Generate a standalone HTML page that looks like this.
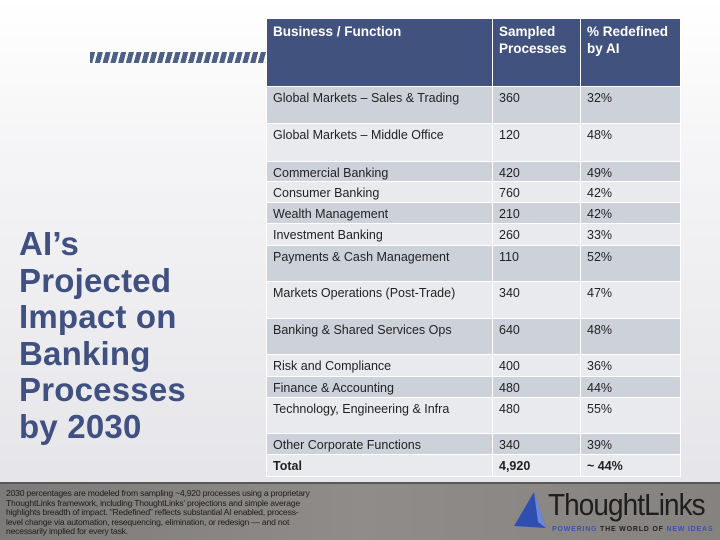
<!DOCTYPE html>
<html><head><meta charset="utf-8"><style>
*{margin:0;padding:0;box-sizing:border-box}
body{width:720px;height:540px;overflow:hidden;position:relative;font-family:"Liberation Sans",sans-serif;background:linear-gradient(180deg,#ffffff 0%,#f4f4f6 30%,#e6e6ea 88%)}
.stripes{position:absolute;left:90px;top:52px;width:176px;height:11px;background:repeating-linear-gradient(105deg,#4e5f88 0 5px,transparent 5px 7.5px)}
.title{position:absolute;left:19px;top:226px;font-size:33px;line-height:36.5px;font-weight:bold;color:#3f5081;letter-spacing:0.2px}
table{position:absolute;left:266px;top:18px;width:415px;border-collapse:collapse;font-size:12.5px;color:#222}
td{border:1.5px solid #fff;vertical-align:top;padding:4px 0 0 6px}
tr.h td{background:#41527f;color:#fff;font-weight:bold;font-size:13.5px;line-height:17px;height:68px;padding-top:4px}
tr.d td{background:#cdd1da}
tr.l td{background:#e9eaee}
td.c1{width:226px}td.c2{width:88px}
.total td{font-weight:bold}
.footer{position:absolute;left:0;top:482px;width:720px;height:58px;background:linear-gradient(90deg,#7d7b79,#8f8c89 50%,#85827f);border-top:2px solid #5a5856}
.fn{position:absolute;left:6px;top:5px;font-size:8.6px;line-height:9.6px;color:#1c1c1c;width:305px;letter-spacing:-0.2px}
.logo{position:absolute;left:548px;top:3px;font-size:31px;color:#1e1e1e;letter-spacing:-1px;white-space:nowrap;transform:scaleX(0.9);transform-origin:left top}
.tag{position:absolute;left:552px;top:42px;font-size:7px;letter-spacing:0.8px;color:#222;font-weight:bold;white-space:nowrap}
.tag b{color:#3b55b0}
</style></head><body>
<div class="stripes"></div>
<div class="title">AI’s<br>Projected<br>Impact on<br>Banking<br>Processes<br>by 2030</div>
<table>
<tr class="h"><td class="c1">Business / Function</td><td class="c2">Sampled Processes</td><td>% Redefined by AI</td></tr>
<tr class="d" style="height:37px"><td>Global Markets – Sales &amp; Trading</td><td>360</td><td>32%</td></tr>
<tr class="l" style="height:38px"><td>Global Markets – Middle Office</td><td>120</td><td>48%</td></tr>
<tr class="d" style="height:20px"><td>Commercial Banking</td><td>420</td><td>49%</td></tr>
<tr class="l" style="height:21px"><td>Consumer Banking</td><td>760</td><td>42%</td></tr>
<tr class="d" style="height:21px"><td>Wealth Management</td><td>210</td><td>42%</td></tr>
<tr class="l" style="height:22px"><td>Investment Banking</td><td>260</td><td>33%</td></tr>
<tr class="d" style="height:36px"><td>Payments &amp; Cash Management</td><td>110</td><td>52%</td></tr>
<tr class="l" style="height:37px"><td>Markets Operations (Post-Trade)</td><td>340</td><td>47%</td></tr>
<tr class="d" style="height:36px"><td>Banking &amp; Shared Services Ops</td><td>640</td><td>48%</td></tr>
<tr class="l" style="height:22px"><td>Risk and Compliance</td><td>400</td><td>36%</td></tr>
<tr class="d" style="height:21px"><td>Finance &amp; Accounting</td><td>480</td><td>44%</td></tr>
<tr class="l" style="height:36px"><td>Technology, Engineering &amp; Infra</td><td>480</td><td>55%</td></tr>
<tr class="d" style="height:21px"><td>Other Corporate Functions</td><td>340</td><td>39%</td></tr>
<tr class="l total" style="height:22px"><td>Total</td><td>4,920</td><td>~ 44%</td></tr>
</table>
<div class="footer">
<div class="fn">2030 percentages are modeled from sampling ~4,920 processes using a proprietary ThoughtLinks framework, including ThoughtLinks’ projections and simple average highlights breadth of impact. “Redefined” reflects substantial AI enabled, process-level change via automation, resequencing, elimination, or redesign — and not necessarily implied for every task.</div>
<svg style="position:absolute;left:512px;top:8px" width="36" height="44"><polygon points="22,0 2,34 34,36" fill="#2f4fb0"/><polygon points="22,0 26,30 34,36" fill="#6e88d8"/></svg>
<div class="logo">ThoughtLinks</div>
<div class="tag"><b>POWERING</b> THE WORLD OF <b>NEW IDEAS</b></div>
</div>
</body></html>
